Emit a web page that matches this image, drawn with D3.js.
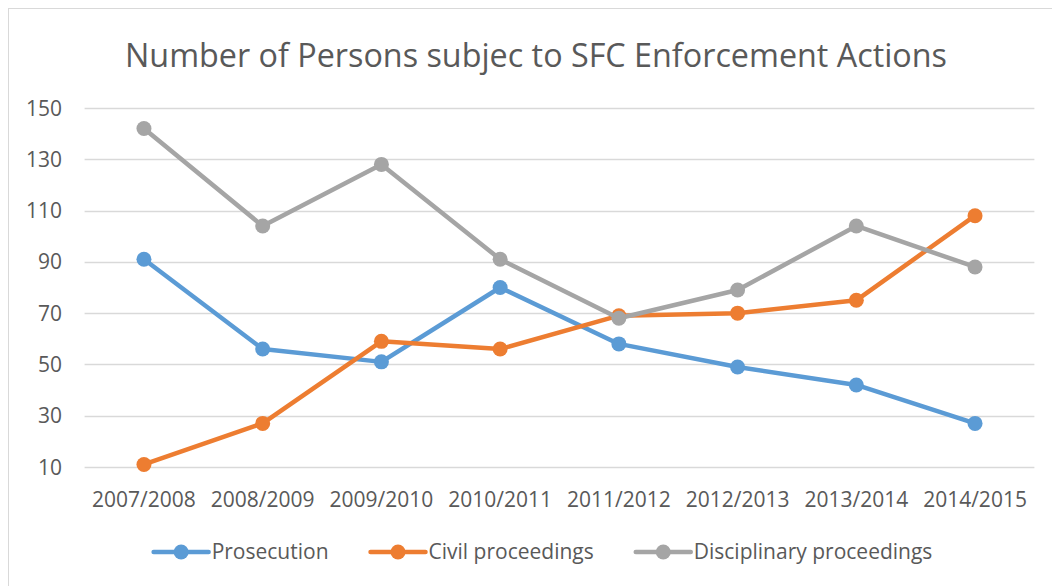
<!DOCTYPE html>
<html>
<head>
<meta charset="utf-8">
<script src="https://cdn.jsdelivr.net/npm/d3@7"></script>
<style>
  body { margin: 0; background: #fff; }
  svg text { font-family: "Open Sans", sans-serif; fill: #595959; }
</style>
</head>
<body>
<svg id="chart" width="1052" height="586"></svg>
<script>
const categories = ["2007/2008", "2008/2009", "2009/2010", "2010/2011", "2011/2012", "2012/2013", "2013/2014", "2014/2015"];
const prosecution = [91, 56, 51, 80, 58, 49, 42, 27];
const civil = [11, 27, 59, 56, 69, 70, 75, 108];
const disciplinary = [142, 104, 128, 91, 68, 79, 104, 88];
const yTicks = [10, 30, 50, 70, 90, 110, 130, 150];

const series = [
  { name: "Prosecution", values: prosecution, color: "#5B9BD5" },
  { name: "Civil proceedings", values: civil, color: "#ED7D31" },
  { name: "Disciplinary proceedings", values: disciplinary, color: "#A5A5A5" },
];

const svg = d3.select("#chart");

// chart frame (right / bottom edges fall outside the picture)
svg.append("rect")
  .attr("x", 8.5).attr("y", 8.5)
  .attr("width", 1100).attr("height", 700)
  .attr("fill", "#fff")
  .attr("stroke", "#D9D9D9");

const x = d3.scaleBand().domain(categories).range([84.6, 1034.4]).padding(0);
const y = d3.scaleLinear().domain([10, 150]).range([467, 108]);

// title
svg.append("text")
  .attr("x", 536).attr("y", 67)
  .attr("text-anchor", "middle")
  .style("font-size", "32px")
  .attr("textLength", 822)
  .attr("lengthAdjust", "spacingAndGlyphs")
  .text("Number of Persons subjec to SFC Enforcement Actions");

// gridlines
svg.append("g")
  .selectAll("line")
  .data(yTicks)
  .join("line")
  .attr("x1", x.range()[0]).attr("x2", x.range()[1])
  .attr("y1", (d) => Math.round(y(d)) + 0.5)
  .attr("y2", (d) => Math.round(y(d)) + 0.5)
  .attr("stroke", "#D9D9D9")
  .attr("stroke-width", 1.5);

// y labels
svg.append("g")
  .selectAll("text")
  .data(yTicks)
  .join("text")
  .attr("x", 62)
  .attr("y", (d) => y(d) + 7.5)
  .attr("text-anchor", "end")
  .style("font-size", "21px")
  .text((d) => d);

// x labels
svg.append("g")
  .selectAll("text")
  .data(categories)
  .join("text")
  .attr("x", (d) => x(d) + x.bandwidth() / 2)
  .attr("y", 507)
  .attr("text-anchor", "middle")
  .style("font-size", "21px")
  .text((d) => d);

const line = d3.line()
  .x((d, i) => x(categories[i]) + x.bandwidth() / 2)
  .y((d) => y(d));

series.forEach((s) => {
  const g = svg.append("g");
  g.append("path")
    .datum(s.values)
    .attr("fill", "none")
    .attr("stroke", s.color)
    .attr("stroke-width", 4.5)
    .attr("stroke-linejoin", "round")
    .attr("d", line);
  g.selectAll("circle")
    .data(s.values)
    .join("circle")
    .attr("cx", (d, i) => x(categories[i]) + x.bandwidth() / 2)
    .attr("cy", (d) => y(d))
    .attr("r", 7.5)
    .attr("fill", s.color);
});

// legend
const legend = svg.append("g");
const legendY = 552;
const lineLen = 55;
const items = legend.selectAll("g")
  .data(series)
  .join("g");
items.append("line")
  .attr("x1", 0).attr("x2", lineLen)
  .attr("y1", 0).attr("y2", 0)
  .attr("stroke", (d) => d.color)
  .attr("stroke-width", 4.5)
  .attr("stroke-linecap", "round");
items.append("circle")
  .attr("cx", lineLen / 2).attr("cy", 0)
  .attr("r", 7.5)
  .attr("fill", (d) => d.color);
items.append("text")
  .attr("x", lineLen + 3)
  .attr("y", 7)
  .style("font-size", "21px")
  .text((d) => d.name);

let widths = [];
items.each(function () { widths.push(this.getBBox().width); });
const gap = 42;
const total = d3.sum(widths) + gap * (widths.length - 1);
let cx = 543 - total / 2;
items.attr("transform", (d, i) => {
  const t = `translate(${cx},${legendY})`;
  cx += widths[i] + gap;
  return t;
});
</script>
</body>
</html>
